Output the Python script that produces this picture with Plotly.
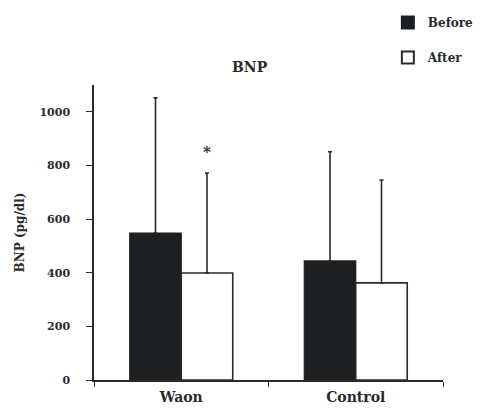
import plotly.graph_objects as go

categories = ["Waon", "Control"]
before_mean = [548, 444]
before_upper = [1052, 851]
after_mean = [399, 362]
after_upper = [772, 746]
y_tick_vals = [0, 200, 400, 600, 800, 1000]

FONT = "DejaVu Serif"
INK = "#2a2a2a"

fig = go.Figure()
fig.add_trace(go.Bar(
    x=categories, y=before_mean, name="<b>Before</b>",
    marker=dict(color="#1d2022", line=dict(color="#1d2022", width=1.2)),
    error_y=dict(type="data", symmetric=False,
                 array=[u - m for u, m in zip(before_upper, before_mean)],
                 arrayminus=[0, 0], color=INK, thickness=1.6, width=2),
    legendgroup="a",
))
fig.add_trace(go.Bar(
    x=categories, y=after_mean, name="<b>After</b>",
    marker=dict(color="white", line=dict(color=INK, width=1.6)),
    error_y=dict(type="data", symmetric=False,
                 array=[u - m for u, m in zip(after_upper, after_mean)],
                 arrayminus=[0, 0], color=INK, thickness=1.6, width=2),
    legendgroup="b",
))

fig.add_annotation(x=0.147, y=850, xref="x", yref="y", text="<b>*</b>",
                   showarrow=False, font=dict(family=FONT, size=15, color=INK))
fig.add_annotation(x=0.447, y=1 + 28 / 295, xref="paper", yref="paper",
                   text="<b>BNP</b>", showarrow=False,
                   font=dict(family=FONT, size=14, color=INK))

fig.update_layout(
    width=476, height=402,
    margin=dict(l=86, r=41, t=77, b=30, autoexpand=False),
    paper_bgcolor="white", plot_bgcolor="white",
    barmode="group", bargap=0.41, bargroupgap=0,
    font=dict(family=FONT, color=INK),
    legend=dict(x=0.842, y=1.261, xanchor="left", yanchor="top",
                traceorder="grouped", tracegroupgap=16,
                font=dict(family=FONT, size=12, color=INK),
                itemsizing="constant", bgcolor="rgba(0,0,0,0)"),
    xaxis=dict(type="category", range=[-0.5, 1.5], showline=True, linecolor=INK,
               linewidth=1.5, ticks="outside", tickson="boundaries", ticklen=5,
               tickcolor=INK, tickwidth=1.2, ticklabelstandoff=3,
               tickfont=dict(family=FONT, size=14, color=INK),
               tickvals=categories, ticktext=["<b>Waon</b>", "<b>Control</b>"],
               showgrid=False, zeroline=False),
    yaxis=dict(range=[0, 1100], showline=True, linecolor=INK, linewidth=1.5,
               ticks="outside", ticklen=6, tickcolor=INK, tickwidth=1.2,
               ticklabelstandoff=14,
               tickvals=y_tick_vals, ticktext=[f"<b>{v}</b>" for v in y_tick_vals],
               tickfont=dict(family=FONT, size=11, color=INK),
               showgrid=False, zeroline=False,
               title=dict(text="<b>BNP (pg/dl)</b>", standoff=12,
                          font=dict(family=FONT, size=12, color=INK))),
)

fig.write_html("out.html")
